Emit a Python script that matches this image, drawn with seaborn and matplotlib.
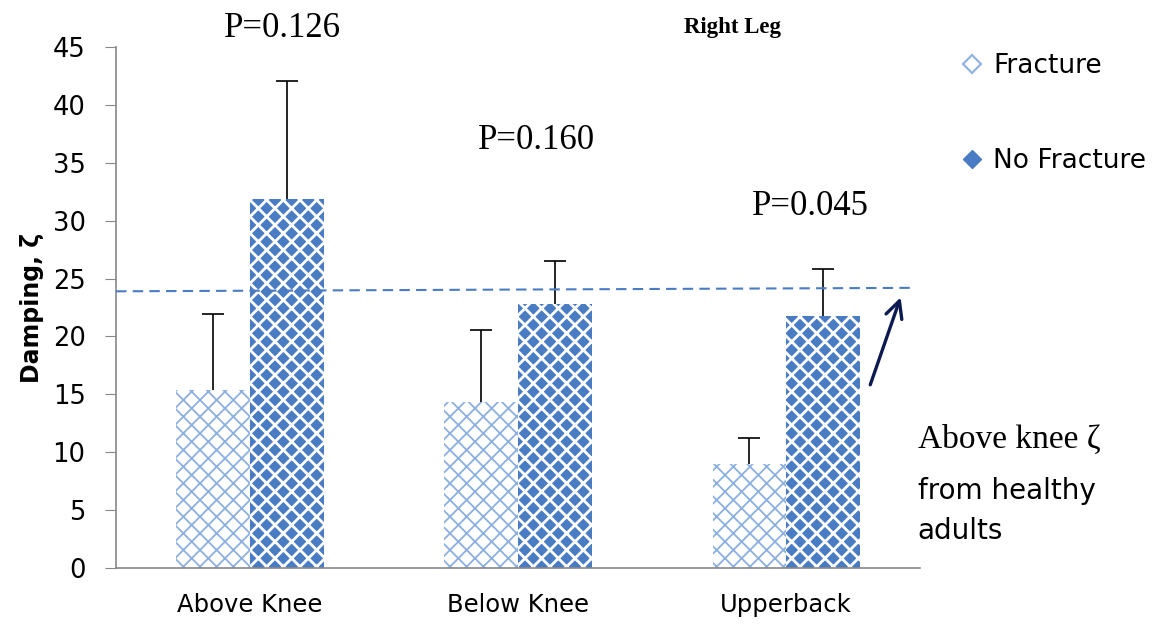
import matplotlib
matplotlib.use("Agg")
import matplotlib.pyplot as plt
from matplotlib.lines import Line2D
import seaborn as sns
import pandas as pd

sites = ["Above Knee", "Below Knee", "Upperback"]
groups = ["Fracture", "No Fracture"]
fracture_mean = [15.4, 14.3, 9.0]
fracture_err = [6.5, 6.3, 2.2]
nofracture_mean = [31.9, 22.8, 21.8]
nofracture_err = [10.2, 3.7, 4.0]
p_labels = ["P=0.126", "P=0.160", "P=0.045"]
p_heights = [46.6, 36.9, 31.2]
healthy_ref = [23.9, 24.2]

df = pd.DataFrame({
    "site": sites * 2,
    "group": ["Fracture"] * 3 + ["No Fracture"] * 3,
    "damping": fracture_mean + nofracture_mean,
    "err": fracture_err + nofracture_err,
})

sns.set_style("white")
plt.rcParams["font.family"] = ["DejaVu Sans"]
plt.rcParams["text.color"] = "black"
plt.rcParams["axes.labelcolor"] = "black"
plt.rcParams["xtick.color"] = "black"
plt.rcParams["ytick.color"] = "black"
plt.rcParams["hatch.linewidth"] = 1.3

fig = plt.figure(figsize=(11.63, 6.31), dpi=100)
ax = fig.add_axes([0.0998, 0.0998, 0.6915, 0.8257])

sns.barplot(data=df, x="site", y="damping", hue="group", order=sites,
            hue_order=groups, width=0.55, errorbar=None, legend=False, ax=ax)

light = "#8cb0e0"
dark = "#4a7cc4"
for bar, grp in zip(ax.patches, ["Fracture"] * 3 + ["No Fracture"] * 3):
    bar.set_linewidth(0)
    bar.set_hatch("xx")
    if grp == "Fracture":
        bar.set_facecolor("white")
        bar.set_edgecolor(light)
        if hasattr(bar, "set_hatch_linewidth"):
            bar.set_hatch_linewidth(1.3)
    else:
        bar.set_facecolor(dark)
        bar.set_edgecolor("white")
        if hasattr(bar, "set_hatch_linewidth"):
            bar.set_hatch_linewidth(2.0)

# upward-only error bars, cap on top only
for bar, val, err in zip(ax.patches, df["damping"], df["err"]):
    xc = bar.get_x() + bar.get_width() / 2
    eb = ax.errorbar(xc, val, yerr=[[0], [err]], fmt="none", ecolor="black",
                     elinewidth=1.2, capsize=8, capthick=1.2, zorder=3)
    eb[1][0].set_visible(False)

# healthy reference line
ax.plot([-0.5, 2.48], healthy_ref, ls="--", color="#4a7cc4", lw=1.5, dashes=(5, 3), zorder=4)

p_xoff = [0.12, 0.07, 0.09]
for i, (lab, h) in enumerate(zip(p_labels, p_heights)):
    ax.text(i + p_xoff[i], h, lab, ha="center", va="center", fontsize=25,
            family="Liberation Serif", clip_on=False)

ax.text(1.8, 46.7, "Right Leg", ha="center", va="center", fontsize=16.5,
        fontweight="bold", family="Liberation Serif", clip_on=False)

ax.annotate("", xy=(2.43, 23.6), xytext=(2.31, 15.6),
            arrowprops=dict(arrowstyle="->", color="#0d1a4f", lw=2.4,
                            mutation_scale=30), annotation_clip=False)

fig.text(0.789, 0.303, "Above knee ζ", fontsize=24, family="Liberation Serif", va="center")
fig.text(0.789, 0.222, "from healthy", fontsize=20, va="center")
fig.text(0.789, 0.158, "adults", fontsize=20, va="center")

ax.set_xlim(-0.5, 2.5)
ax.set_ylim(0, 45)
ax.set_yticks(range(0, 46, 5))
ax.set_xticks([-0.5, 0.5, 1.5, 2.5], minor=False)
ax.set_xticklabels([])
ax.set_xticks([0, 1, 2], minor=True)
ax.set_xticklabels(sites, minor=True, fontsize=17.5)
ax.tick_params(axis="x", which="minor", length=0, pad=18)
ax.tick_params(axis="x", which="major", length=8, color="#888888", direction="out")
ax.tick_params(axis="y", length=8, color="#888888", direction="out", labelsize=18.5,
               left=True, pad=14)
ax.set_xlabel("")
ax.set_ylabel("Damping, ζ", fontsize=17, fontweight="bold", labelpad=6)
sns.despine(ax=ax)
for s in ["left", "bottom"]:
    ax.spines[s].set_color("#888888")
    ax.spines[s].set_linewidth(1.2)

handles = [
    Line2D([], [], marker="D", ls="none", markersize=9, markerfacecolor="white",
           markeredgecolor=light, markeredgewidth=1.5),
    Line2D([], [], marker="D", ls="none", markersize=9, markerfacecolor=dark,
           markeredgecolor=dark),
]
fig.legend(handles, groups, loc="upper left", bbox_to_anchor=(0.804, 0.953),
           frameon=False, fontsize=19, labelspacing=2.6, handletextpad=0.3,
           handlelength=1.0)

fig.savefig("out.png", dpi=100)
